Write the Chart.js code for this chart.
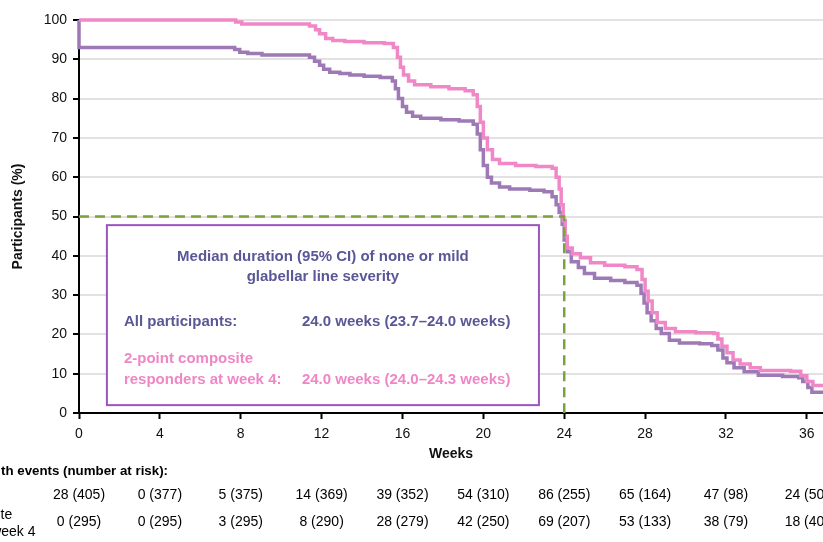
<!DOCTYPE html>
<html><head><meta charset="utf-8">
<script src="https://cdn.jsdelivr.net/npm/chart.js@4/dist/chart.umd.min.js"></script>
<style>html,body{margin:0;padding:0;background:#fff;overflow:hidden}#wrap{width:823px;height:542px;position:relative}</style>
</head><body><div id="wrap"><canvas id="c" width="823" height="542"></canvas></div>
<script>
// ---- data ----
const allWeeks = [0,0,7.7,7.95,8.35,9.05,11.4,11.65,11.9,12.1,12.4,12.9,13.4,14.1,14.9,15.5,15.65,15.8,16.0,16.2,16.5,16.9,17.9,18.8,19.5,19.7,19.85,20.0,20.2,20.4,20.8,21.3,22.3,23.0,23.4,23.6,23.75,23.9,24.0,24.15,24.35,24.7,25.0,25.5,26.3,27.0,27.6,27.8,27.95,28.1,28.3,28.55,28.8,29.2,29.7,30.7,31.3,31.6,31.85,32.05,32.4,32.9,33.6,34.8,35.6,35.8,36.05,36.25,36.8];
const allValues = [100,93,92.5,91.8,91.5,91.1,90.5,89.5,88.5,87.5,86.7,86.4,86,85.7,85.4,84.5,82.5,80,78,76.5,75.5,75,74.6,74.3,73.5,71,67,63,60,58.5,57.5,57,56.7,56.3,55,53,51,48,44,41,38.5,37,35.5,34.3,33.7,33.2,32.5,30.5,28,25.5,23.5,21.5,20.2,18.5,17.8,17.6,17.2,16,14,12.8,11.5,10.5,9.6,9.3,9.0,8,6.5,5.3,5.3];
const compWeeks = [0,7.75,8.05,11.4,11.7,11.9,12.2,12.55,13.15,14.1,15.1,15.55,15.75,15.9,16.05,16.3,16.6,17.4,18.3,19.1,19.5,19.7,19.85,20.0,20.2,20.45,20.8,21.6,22.6,23.4,23.6,23.75,23.85,23.95,24.05,24.15,24.4,24.8,25.3,26.0,27.0,27.6,27.85,28.0,28.15,28.35,28.6,29.0,29.5,30.5,31.4,31.6,31.8,32.05,32.35,32.7,33.2,33.7,35.2,35.7,36.0,36.3,36.8];
const compValues = [100,99.5,99,98.5,97.5,96.5,95.3,94.8,94.5,94.2,94,93,90.5,88,86,84.5,83.5,83,82.5,82,81,78,74,70,67,64.5,63.5,63,62.7,62.3,60,57,53,49,45,42,40.5,39.5,38.2,37.6,37.2,36.5,34,31,28.5,25.5,23,21.5,20.7,20.4,20.2,18.8,17,15.3,13.5,12.5,11.5,10.8,10.6,9.5,8,7,7];
const xTickValues = [0,4,8,12,16,20,24,28,32,36];
const yTickValues = [0,10,20,30,40,50,60,70,80,90,100];
const riskWeeks = [0,4,8,12,16,20,24,28,32,36];
const allEvents = [28,0,5,14,39,54,86,65,47,24];
const allAtRisk = [405,377,375,369,352,310,255,164,98,50];
const compEvents = [0,0,3,8,28,42,69,53,38,18];
const compAtRisk = [295,295,295,290,279,250,207,133,79,40];
const medianWeek = 24;
const medianLevel = 50;
const seriesNames = ['All participants','2-point composite responders at week 4'];

// ---- style ----
const PURPLE = '#9d7ab6';
const PINK = '#f088c8';
const TEXTPURPLE = '#5a5796';
const TEXTPINK = '#ef86c6';
const GREEN = '#7aa33c';
const FONT = "'Liberation Sans', Arial, sans-serif";

const toPts = (xs, ys) => xs.map((x, i) => ({x, y: ys[i]}));

const overlay = {
  id: 'overlay',
  afterDatasetsDraw(chart) {
    const {ctx, scales: {x, y}} = chart;
    const bx0 = x.getPixelForValue(1.38), bx1 = x.getPixelForValue(22.75);
    const by0 = y.getPixelForValue(47.8), by1 = y.getPixelForValue(2);
    ctx.save();
    ctx.fillStyle = '#fff';
    ctx.fillRect(bx0, by0, bx1 - bx0, by1 - by0);
    ctx.strokeStyle = '#9b55c0';
    ctx.lineWidth = 2;
    ctx.strokeRect(bx0, by0, bx1 - bx0, by1 - by0);
    ctx.font = 'bold 15px ' + FONT;
    ctx.textBaseline = 'middle';
    ctx.fillStyle = TEXTPURPLE;
    ctx.textAlign = 'center';
    const cx = (bx0 + bx1) / 2;
    ctx.fillText('Median duration (95% CI) of none or mild', cx, by0 + 32);
    ctx.fillText('glabellar line severity', cx, by0 + 52);
    ctx.textAlign = 'left';
    ctx.fillText('All participants:', bx0 + 17, by0 + 97);
    ctx.fillText('24.0 weeks (23.7\u201324.0 weeks)', bx0 + 195, by0 + 97);
    ctx.fillStyle = TEXTPINK;
    ctx.fillText('2-point composite', bx0 + 17, by0 + 134);
    ctx.fillText('responders at week 4:', bx0 + 17, by0 + 155);
    ctx.fillText('24.0 weeks (24.0\u201324.3 weeks)', bx0 + 195, by0 + 155);

    ctx.strokeStyle = GREEN;
    ctx.lineWidth = 2.5;
    ctx.setLineDash([10, 6]);
    const mx = x.getPixelForValue(medianWeek), my = y.getPixelForValue(medianLevel);
    ctx.beginPath();
    ctx.moveTo(x.getPixelForValue(0), my);
    ctx.lineTo(mx, my);
    ctx.lineTo(mx, y.getPixelForValue(0));
    ctx.stroke();
    ctx.restore();
  },
  afterDraw(chart) {
    const {ctx, scales: {x}} = chart;
    ctx.save();
    ctx.fillStyle = '#000';
    ctx.font = 'bold 13.3px ' + FONT;
    ctx.textAlign = 'left';
    ctx.textBaseline = 'middle';
    const headLeft = 1 - ctx.measureText('Participants wi').width;
    ctx.fillText('Participants with events (number at risk):', headLeft, 471);
    ctx.font = '14px ' + FONT;
    const labLeft = 0.5 - ctx.measureText('2-point composi').width;
    ctx.fillText(seriesNames[0], labLeft, 495);
    ctx.fillText('2-point composite', labLeft, 515);
    ctx.fillText('responders at week 4', labLeft, 532);
    ctx.textAlign = 'center';
    riskWeeks.forEach((w, i) => {
      const px = x.getPixelForValue(w);
      ctx.fillText(allEvents[i] + ' (' + allAtRisk[i] + ')', px, 495);
      ctx.fillText(compEvents[i] + ' (' + compAtRisk[i] + ')', px, 522);
    });
    ctx.restore();
  }
};

new Chart(document.getElementById('c'), {
  type: 'line',
  data: {
    datasets: [
      {label: seriesNames[1], data: toPts(compWeeks, compValues), borderColor: PINK, borderWidth: 3.5, stepped: 'before', pointRadius: 0, fill: false, tension: 0, clip: 5},
      {label: seriesNames[0], data: toPts(allWeeks, allValues), borderColor: PURPLE, borderWidth: 3.5, stepped: 'before', pointRadius: 0, fill: false, tension: 0, clip: 5}
    ]
  },
  options: {
    responsive: false,
    animation: false,
    devicePixelRatio: 1,
    layout: {padding: {top: 20, right: 0, bottom: 72, left: 0}},
    plugins: {legend: {display: false}, tooltip: {enabled: false}},
    scales: {
      x: {
        type: 'linear', min: 0, max: 36.8,
        afterBuildTicks: s => { s.ticks = xTickValues.map(v => ({value: v})); },
        afterFit: s => { s.height = 57; },
        border: {color: '#000', width: 2},
        grid: {drawOnChartArea: false, drawTicks: true, tickLength: 6, tickColor: '#000', tickWidth: 2},
        ticks: {color: '#111', font: {family: FONT, size: 14}, padding: 7, maxRotation: 0, autoSkip: false},
        title: {display: true, text: 'Weeks', color: '#111', font: {family: FONT, size: 14, weight: 'bold'}, padding: {top: 0, bottom: 7}}
      },
      y: {
        type: 'linear', min: 0, max: 100,
        afterBuildTicks: s => { s.ticks = yTickValues.map(v => ({value: v})); },
        afterFit: s => { s.width = 79; },
        border: {color: '#000', width: 2},
        grid: {color: '#e2e2e2', lineWidth: 2, drawTicks: true, tickLength: 6, tickColor: '#000', tickWidth: 2},
        ticks: {color: '#111', font: {family: FONT, size: 14}, padding: 6},
        title: {display: true, text: 'Participants (%)', color: '#111', font: {family: FONT, size: 14, weight: 'bold'}, padding: {top: 10, bottom: 0}}
      }
    }
  },
  plugins: [overlay]
});
</script>
</body></html>
